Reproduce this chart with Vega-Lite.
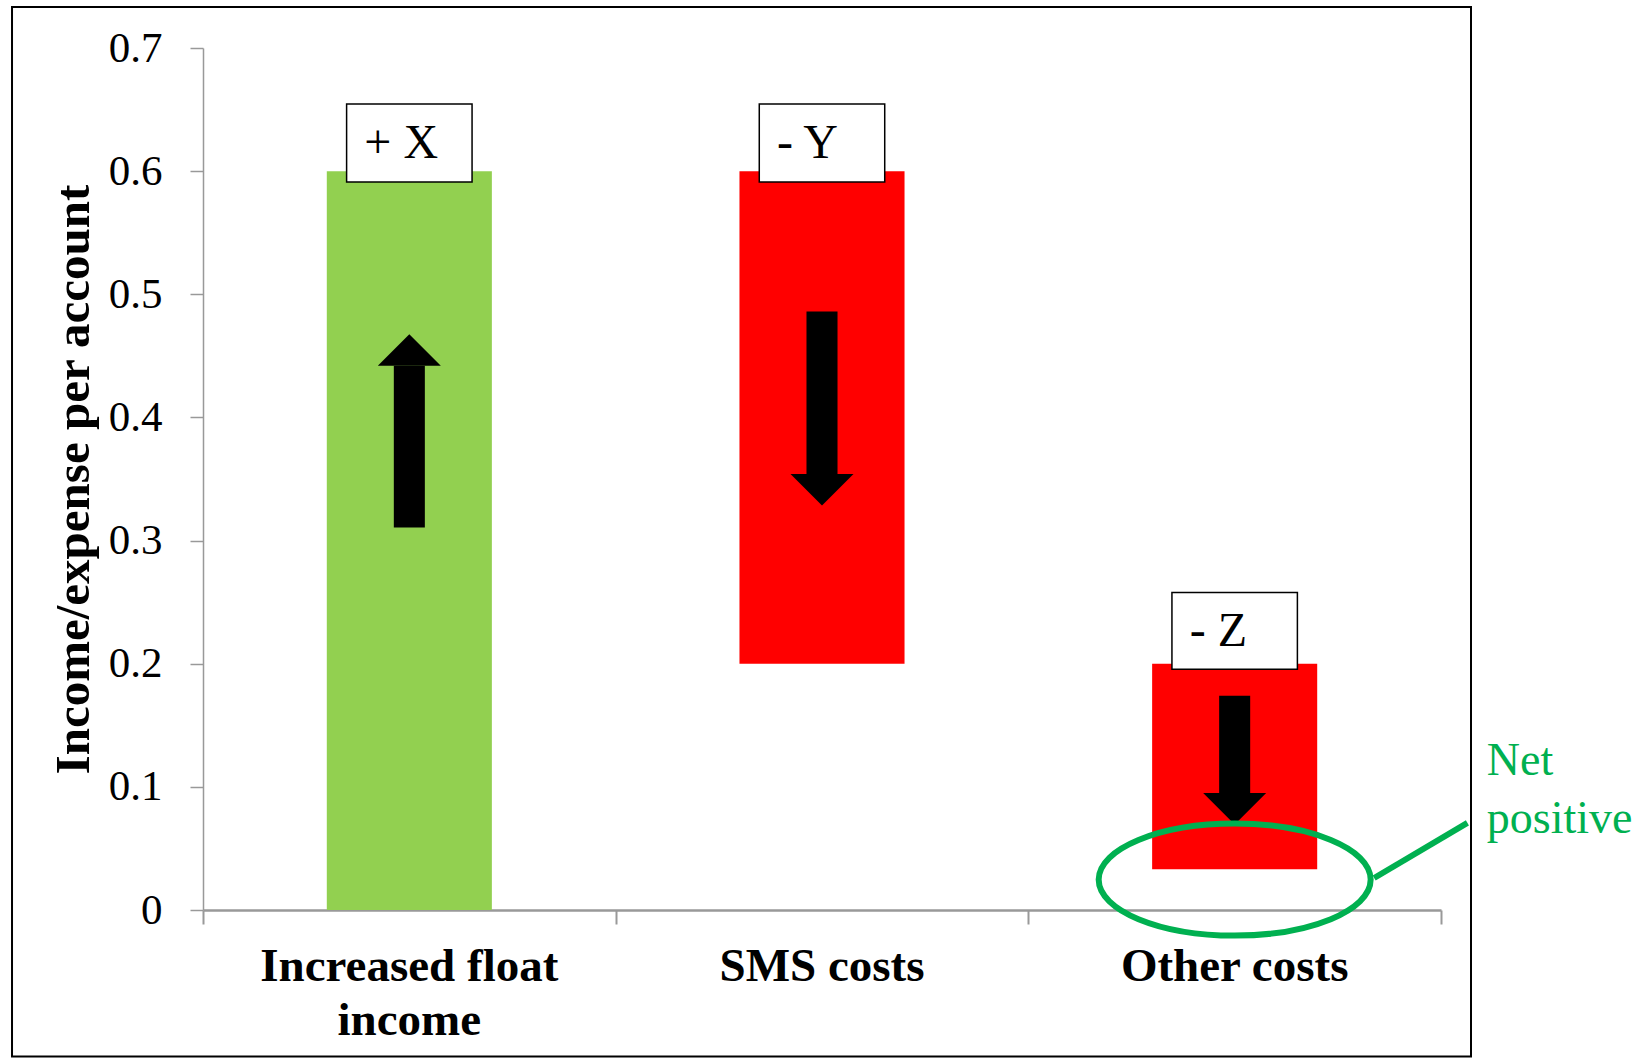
{
  "$schema": "https://vega.github.io/schema/vega-lite/v6.json",
  "width": 1238,
  "height": 862,
  "autosize": {"type": "none"},
  "padding": {"left": 203, "top": 48, "right": 208, "bottom": 148},
  "background": "white",
  "config": {"view": {"stroke": null}, "font": "Liberation Serif"},
  "datasets": {
    "bars": [
      {"item": "Increased float income", "lo": 0, "hi": 0.6, "kind": "gain"},
      {"item": "SMS costs", "lo": 0.2, "hi": 0.6, "kind": "cost"},
      {"item": "Other costs", "lo": 0.033, "hi": 0.2, "kind": "cost"}
    ],
    "boxes": [
      {"item": "Increased float income", "lo": 0.5912, "hi": 0.6545, "base": 0.6107, "label": "+ X"},
      {"item": "SMS costs", "lo": 0.5912, "hi": 0.6545, "base": 0.6107, "label": "- Y"},
      {"item": "Other costs", "lo": 0.1955, "hi": 0.2579, "base": 0.2141, "label": "- Z"}
    ],
    "arrows": [
      {"item": "Increased float income", "lo": 0.3106, "hi": 0.442, "head": 0.442, "dir": "up"},
      {"item": "SMS costs", "lo": 0.354, "hi": 0.486, "head": 0.354, "dir": "down"},
      {"item": "Other costs", "lo": 0.095, "hi": 0.174, "head": 0.095, "dir": "down"}
    ],
    "ellipse": [{"pos": 2.5, "val": 0.0247}],
    "connector": [{"pos": 2.838, "val": 0.026}, {"pos": 3.064, "val": 0.0707}],
    "note": [{"pos": 3.111, "val": 0.1096, "t": "Net"}, {"pos": 3.111, "val": 0.0625, "t": "positive"}]
  },
  "layer": [
    {
      "layer": [
        {
          "data": {"name": "bars"},
          "mark": {"type": "bar"},
          "encoding": {
            "x": {
              "field": "item", "type": "nominal", "sort": null,
              "scale": {"domain": ["Increased float income", "SMS costs", "Other costs"], "paddingInner": 0.6, "paddingOuter": 0.3},
              "axis": {
                "orient": "bottom",
                "title": null, "ticks": false, "labelAngle": 0,
                "domainColor": "#999999", "domainWidth": 2.5,
                "labelFont": "Liberation Serif", "labelFontSize": 47, "labelFontWeight": "bold",
                "labelColor": "black", "labelPadding": 33, "labelLineHeight": 54, "labelLimit": 500,
                "labelExpr": "datum.label == 'Increased float income' ? ['Increased float', 'income'] : datum.label"
              }
            },
            "y": {
              "field": "lo", "type": "quantitative",
              "title": "Income/expense per account",
              "scale": {"domain": [0, 0.7], "nice": false, "zero": false},
              "axis": {
                "values": [0, 0.1, 0.2, 0.3, 0.4, 0.5, 0.6, 0.7], "format": ".1~f", "grid": false,
                "domainColor": "#999999", "domainWidth": 1.5,
                "tickColor": "#999999", "tickSize": 13, "tickWidth": 1.5,
                "labelFont": "Liberation Serif", "labelFontSize": 43, "labelColor": "black", "labelPadding": 28,
                "title": "Income/expense per account",
                "titleFont": "Liberation Serif", "titleFontSize": 49, "titleFontWeight": "bold",
                "titleColor": "black", "titlePadding": 10
              }
            },
            "y2": {"field": "hi"},
            "color": {
              "field": "kind", "type": "nominal",
              "scale": {"domain": ["gain", "cost"], "range": ["#92D050", "#FF0000"]},
              "legend": null
            }
          }
        },
        {
          "data": {"name": "boxes"},
          "mark": {"type": "bar", "width": {"band": 0.76}, "fill": "white", "stroke": "black", "strokeWidth": 1.5},
          "encoding": {
            "x": {"field": "item", "type": "nominal", "sort": null},
            "y": {"field": "lo", "type": "quantitative", "title": "Income/expense per account"},
            "y2": {"field": "hi"}
          }
        },
        {
          "data": {"name": "boxes"},
          "mark": {"type": "text", "align": "left", "baseline": "alphabetic", "dx": -45, "fontSize": 48, "font": "Liberation Serif", "color": "black"},
          "encoding": {
            "x": {"field": "item", "type": "nominal", "sort": null},
            "y": {"field": "base", "type": "quantitative", "title": "Income/expense per account"},
            "text": {"field": "label"}
          }
        },
        {
          "data": {"name": "arrows"},
          "mark": {"type": "bar", "width": {"band": 0.188}, "color": "black"},
          "encoding": {
            "x": {"field": "item", "type": "nominal", "sort": null},
            "y": {"field": "lo", "type": "quantitative", "title": "Income/expense per account"},
            "y2": {"field": "hi"}
          }
        },
        {
          "data": {"name": "arrows"},
          "mark": {"type": "point", "filled": true, "color": "black", "opacity": 1, "size": 3969},
          "encoding": {
            "x": {"field": "item", "type": "nominal", "sort": null},
            "y": {"field": "head", "type": "quantitative", "title": "Income/expense per account"},
            "shape": {
              "field": "dir", "type": "nominal",
              "scale": {"domain": ["up", "down"], "range": ["M-1,0L1,0L0,-1Z", "M-1,0L1,0L0,1Z"]},
              "legend": null
            }
          }
        }
      ]
    },
    {
      "layer": [
        {
          "data": {"name": "ellipse"},
          "mark": {
            "type": "point", "filled": false, "stroke": "#00B050", "strokeWidth": 6, "opacity": 1, "size": 73984,
            "shape": "M1,0C1,0.2275 0.5523,0.412 0,0.412C-0.5523,0.412 -1,0.2275 -1,0C-1,-0.2275 -0.5523,-0.412 0,-0.412C0.5523,-0.412 1,-0.2275 1,0Z"
          },
          "encoding": {
            "x": {
              "field": "pos", "type": "quantitative",
              "scale": {"domain": [0, 3], "nice": false, "zero": false},
              "axis": {
                "orient": "bottom", "title": null, "values": [0, 1, 2, 3], "labels": false, "domain": false, "grid": false,
                "ticks": true, "tickSize": 14, "tickWidth": 2, "tickColor": "#999999"
              }
            },
            "y": {"field": "val", "type": "quantitative", "title": "Income/expense per account"}
          }
        },
        {
          "data": {"name": "connector"},
          "mark": {"type": "line", "color": "#00B050", "strokeWidth": 6},
          "encoding": {
            "x": {"field": "pos", "type": "quantitative"},
            "y": {"field": "val", "type": "quantitative", "title": "Income/expense per account"}
          }
        },
        {
          "data": {"name": "note"},
          "mark": {"type": "text", "align": "left", "baseline": "alphabetic", "fontSize": 46, "font": "Liberation Serif", "color": "#00B050"},
          "encoding": {
            "x": {"field": "pos", "type": "quantitative"},
            "y": {"field": "val", "type": "quantitative", "title": "Income/expense per account"},
            "text": {"field": "t"}
          }
        },
        {
          "data": {"values": [{}]},
          "mark": {"type": "rect", "fillOpacity": 0, "stroke": "black", "strokeWidth": 2},
          "encoding": {
            "x": {"datum": -0.4628, "type": "quantitative"},
            "x2": {"datum": 3.0727},
            "y": {"datum": 0.7333, "type": "quantitative", "title": "Income/expense per account"},
            "y2": {"datum": -0.119}
          }
        }
      ]
    }
  ],
  "resolve": {"scale": {"x": "independent"}}
}
